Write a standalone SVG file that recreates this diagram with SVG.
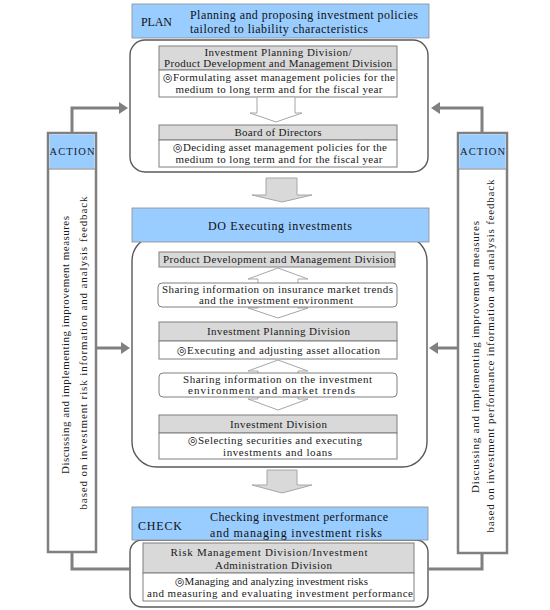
<svg xmlns="http://www.w3.org/2000/svg" width="550" height="610" viewBox="0 0 550 610">
<style>
text{font-family:"Liberation Serif","DejaVu Serif","Times New Roman",serif;font-size:11px;fill:#1a1a1a;text-anchor:middle}
.hd{font-size:12px;fill:#111}
.st{text-anchor:start}
.blue{fill:#99CCFF;stroke:#8C8C8C;stroke-width:0.8}
.cont{fill:#fff;stroke:#595959;stroke-width:1.4}
.gh{fill:#D9D9D9;stroke:#7F7F7F;stroke-width:1}
.gb{fill:#fff;stroke:#7F7F7F;stroke-width:1}
.garrow{fill:#D9D9D9;stroke:#A6A6A6;stroke-width:1}
.harrow{fill:#fff;stroke:#A6A6A6;stroke-width:1}
.conn{fill:none;stroke:#808080;stroke-width:3}
.act{fill:#fff;stroke:#808080;stroke-width:2.5}
</style>
<defs>
<marker id="ah" markerWidth="4" markerHeight="4" refX="1" refY="2" orient="auto" markerUnits="strokeWidth">
<path d="M0,0 L3,2 L0,4 Z" fill="#808080"/>
</marker>
</defs>

<g id="plan">
<rect class="cont" x="130" y="40" width="298" height="132" rx="15"/>
<rect class="blue" x="132" y="4" width="297" height="34"/>
<text class="hd st" x="141" y="26" textLength="31" lengthAdjust="spacing">PLAN</text>
<text class="hd st" x="190" y="19" textLength="228" lengthAdjust="spacing">Planning and proposing investment policies</text>
<text class="hd st" x="190" y="33" textLength="178" lengthAdjust="spacing">tailored to liability characteristics</text>
</g>

<g id="plan-box1">
<rect class="gh" x="159" y="46" width="238" height="24"/>
<text x="278" y="56" textLength="147" lengthAdjust="spacing">Investment Planning Division/</text>
<text x="278" y="67" textLength="228" lengthAdjust="spacing">Product Development and Management Division</text>
<rect class="gb" x="159" y="70" width="238" height="27"/>
<text x="279" y="81" textLength="232" lengthAdjust="spacing">◎Formulating asset management policies for the</text>
<text x="279" y="93" textLength="207" lengthAdjust="spacing">medium to long term and for the fiscal year</text>
</g>

<g id="plan-arrow">
<polygon class="harrow" points="257,97 295,97 295,113 302,113 276,122 250,113 257,113"/>
</g>

<g id="board">
<rect class="gh" x="159" y="125" width="238" height="15"/>
<text x="278" y="136" textLength="87" lengthAdjust="spacing">Board of Directors</text>
<rect class="gb" x="159" y="140" width="238" height="27"/>
<text x="280" y="151" textLength="214" lengthAdjust="spacing">◎Deciding asset management policies for the</text>
<text x="279" y="163" textLength="207" lengthAdjust="spacing">medium to long term and for the fiscal year</text>
</g>

<g id="arrow-plan-do">
<polygon class="garrow" points="266,178 297,178 297,195 312,195 282,202 252,195 266,195"/>
</g>

<g id="do">
<rect class="cont" x="132" y="236" width="295" height="231" rx="25"/>
<rect class="blue" x="132" y="208" width="297" height="34"/>
<text class="hd" x="280" y="230" textLength="144" lengthAdjust="spacing">DO  Executing  investments</text>
</g>

<g id="prod-dev">
<rect class="gh" x="159" y="252" width="236" height="15"/>
<text x="279" y="263" textLength="232" lengthAdjust="spacing">Product Development and Management Division</text>
</g>

<g id="share1">
<polygon class="harrow" points="278,268 308,279 298,279 298,308 308,308 278,318 248,308 258,308 258,279 248,279"/>
<rect class="gb" x="158" y="283" width="239" height="24" rx="4"/>
<text x="277.5" y="293" textLength="231" lengthAdjust="spacing">Sharing information on insurance market trends</text>
<text x="276" y="304" textLength="154" lengthAdjust="spacing">and the investment environment</text>
</g>

<g id="inv-planning">
<rect class="gh" x="159" y="322" width="238" height="19"/>
<text x="278.5" y="335" textLength="143" lengthAdjust="spacing">Investment Planning Division</text>
<rect class="gb" x="159" y="341" width="238" height="18"/>
<text x="278.5" y="354" textLength="203" lengthAdjust="spacing">◎Executing and adjusting asset allocation</text>
</g>

<g id="share2">
<polygon class="harrow" points="278,360 308,371 298,371 298,399 308,399 278,410 248,399 258,399 258,371 248,371"/>
<rect class="gb" x="159" y="373" width="238" height="24" rx="4"/>
<text x="277.5" y="383" textLength="189" lengthAdjust="spacing">Sharing information on the investment</text>
<text x="271.5" y="394" textLength="167" lengthAdjust="spacing">environment and market trends</text>
</g>

<g id="inv-division">
<rect class="gh" x="159" y="415" width="238" height="18"/>
<text x="278.5" y="428" textLength="97" lengthAdjust="spacing">Investment Division</text>
<rect class="gb" x="159" y="433" width="238" height="26"/>
<text x="275" y="444" textLength="174" lengthAdjust="spacing">◎Selecting securities and executing</text>
<text x="277.5" y="456" textLength="109" lengthAdjust="spacing">investments and loans</text>
</g>

<g id="arrow-do-check">
<polygon class="garrow" points="267,470 297,470 297,485 312,485 282,493 252,485 267,485"/>
</g>

<g id="check">
<rect class="cont" x="130" y="540" width="298" height="67" rx="12"/>
<rect class="blue" x="132" y="507" width="296" height="33"/>
<text class="hd st" x="138" y="530" textLength="44" lengthAdjust="spacing">CHECK</text>
<text class="hd st" x="210" y="521" textLength="178" lengthAdjust="spacing">Checking investment performance</text>
<text class="hd st" x="210" y="537" textLength="172" lengthAdjust="spacing">and managing investment risks</text>
</g>

<g id="risk">
<rect class="gh" x="143" y="543" width="271" height="30"/>
<text x="269" y="556" textLength="197" lengthAdjust="spacing">Risk Management Division/Investment</text>
<text x="273.5" y="569" textLength="117" lengthAdjust="spacing">Administration Division</text>
<rect class="gb" x="143" y="573" width="271" height="28"/>
<text x="271.5" y="585" textLength="193" lengthAdjust="spacing">◎Managing and analyzing investment risks</text>
<text x="280" y="597" textLength="266" lengthAdjust="spacing">and measuring and evaluating investment performance</text>
</g>

<g id="action-left">
<rect class="act" x="48" y="133" width="48" height="419"/>
<rect class="blue" x="49.5" y="134.5" width="45" height="34" style="stroke:none"/>
<line x1="48" y1="169" x2="96" y2="169" stroke="#808080" stroke-width="1"/>
<text x="72" y="155" style="font-size:10.5px" textLength="45" lengthAdjust="spacing">ACTION</text>
<text transform="translate(69,345) rotate(-90)" textLength="258" lengthAdjust="spacing">Discussing and implementing improvement measures</text>
<text transform="translate(87,353) rotate(-90)" textLength="313" lengthAdjust="spacing">based on investment risk information and analysis feedback</text>
</g>

<g id="action-right">
<rect class="act" x="458" y="133" width="49" height="420"/>
<rect class="blue" x="459.5" y="134.5" width="46" height="34" style="stroke:none"/>
<line x1="458" y1="169" x2="507" y2="169" stroke="#808080" stroke-width="1"/>
<text x="482.5" y="155" style="font-size:10.5px" textLength="45" lengthAdjust="spacing">ACTION</text>
<text transform="translate(479,357) rotate(-90)" textLength="272" lengthAdjust="spacing">Discussing and implementing improvement measures</text>
<text transform="translate(494,356) rotate(-90)" textLength="353" lengthAdjust="spacing">based on investment performance information and analysis feedback</text>
</g>

<g id="connectors">
<path class="conn" d="M72,133 V108 H122" marker-end="url(#ah)"/>
<path class="conn" d="M96,348 H124" marker-end="url(#ah)"/>
<path class="conn" d="M72,552 V569 H131"/>
<path class="conn" d="M482,133 V108 H437" marker-end="url(#ah)"/>
<path class="conn" d="M458,348 H435" marker-end="url(#ah)"/>
<path class="conn" d="M482,553 V569 H428"/>
</g>
</svg>
